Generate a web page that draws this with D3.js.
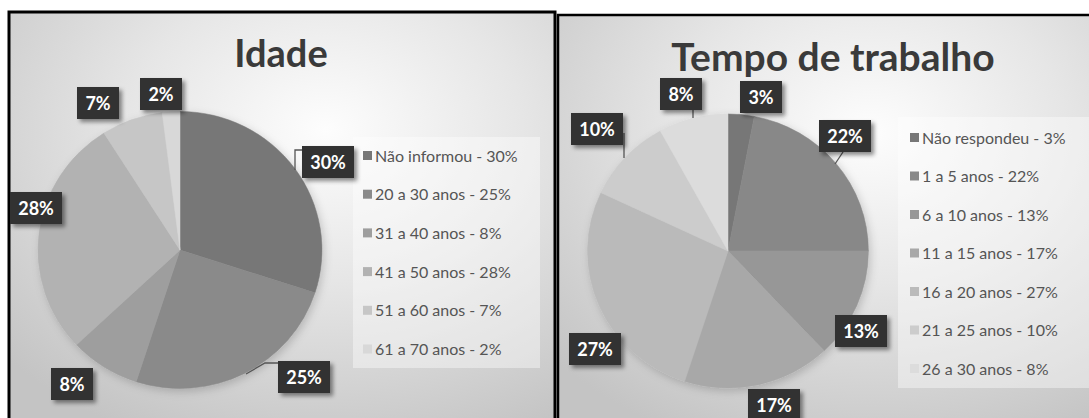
<!DOCTYPE html>
<html>
<head>
<meta charset="utf-8">
<script src="https://cdn.jsdelivr.net/npm/d3@7"></script>
<style>
  body { margin: 0; background: #fff; }
  svg { display: block; }
  text { font-family: Lato, "Open Sans", sans-serif; }
</style>
</head>
<body>
<div id="chart-area"></div>
<script>
// Data
var idadeCategories = ["Não informou", "20 a 30 anos", "31 a 40 anos", "41 a 50 anos", "51 a 60 anos", "61 a 70 anos"];
var idadeValues = [30, 25, 8, 28, 7, 2];
var tempoCategories = ["Não respondeu", "1 a 5 anos", "6 a 10 anos", "11 a 15 anos", "16 a 20 anos", "21 a 25 anos", "26 a 30 anos"];
var tempoValues = [3, 22, 13, 17, 27, 10, 8];

var width = 1089, height = 418;

var svg = d3.select("#chart-area")
    .append("svg")
        .attr("width", width)
        .attr("height", height);

var defs = svg.append("defs");

// panel background
var grad = defs.append("radialGradient")
    .attr("id", "bg")
    .attr("cx", "58%").attr("cy", "28%").attr("r", "80%");
grad.append("stop").attr("offset", "0%").attr("stop-color", "#fdfdfd");
grad.append("stop").attr("offset", "45%").attr("stop-color", "#e6e6e6");
grad.append("stop").attr("offset", "100%").attr("stop-color", "#c4c4c4");

// label shadow
defs.append("filter")
    .attr("id", "shadow")
    .attr("x", "-30%").attr("y", "-30%").attr("width", "170%").attr("height", "170%")
  .append("feDropShadow")
    .attr("dx", 3).attr("dy", 3)
    .attr("stdDeviation", 2)
    .attr("flood-color", "#000")
    .attr("flood-opacity", 0.45);

defs.append("filter")
    .attr("id", "pieShadow")
    .attr("x", "-20%").attr("y", "-20%").attr("width", "140%").attr("height", "140%")
  .append("feDropShadow")
    .attr("dx", 2).attr("dy", 3)
    .attr("stdDeviation", 4)
    .attr("flood-color", "#000")
    .attr("flood-opacity", 0.18);

var pie = d3.pie().sort(null).value(function(d){ return d; });

function drawPanel(opt) {
    var panel = svg.append("g");

    panel.append("rect")
        .attr("x", opt.box[0])
        .attr("y", opt.box[1])
        .attr("width", opt.box[2])
        .attr("height", opt.box[3])
        .attr("fill", "url(#bg)")
        .attr("stroke", "#000")
        .attr("stroke-width", opt.border);

    // Title
    panel.append("text")
        .attr("x", opt.title.x)
        .attr("y", opt.title.y)
        .attr("text-anchor", "middle")
        .attr("font-size", opt.title.size + "px")
        .attr("font-weight", "bold")
        .attr("fill", "#3a3a3a")
        .text(opt.title.text);

    var color = d3.scaleOrdinal()
        .domain(opt.categories)
        .range(opt.colors);

    // Pie
    var arc = d3.arc().innerRadius(0).outerRadius(opt.r);
    var g = panel.append("g")
        .attr("transform", "translate(" + opt.cx + "," + opt.cy + ") scale(1.025,1)");

    g.append("g")
        .attr("filter", "url(#pieShadow)")
        .selectAll("path")
        .data(pie(opt.values))
        .enter()
        .append("path")
            .attr("d", arc)
            .attr("fill", function(d, i){ return color(opt.categories[i]); })
            .attr("stroke", function(d, i){ return color(opt.categories[i]); })
            .attr("stroke-width", 0.5);

    // Legend
    var legend = panel.append("g");
    legend.append("rect")
        .attr("x", opt.legend.x)
        .attr("y", opt.legend.y)
        .attr("width", opt.legend.w)
        .attr("height", opt.legend.h)
        .attr("fill", "#ffffff")
        .attr("fill-opacity", 0.4);

    opt.categories.forEach(function(cat, i){
        var row = legend.append("g")
            .attr("transform", "translate(" + opt.legend.markerX + "," + (opt.legend.firstY + i * opt.legend.step) + ")");
        row.append("rect")
            .attr("x", 0)
            .attr("y", -5)
            .attr("width", 9)
            .attr("height", 9)
            .attr("fill", color(cat));
        row.append("text")
            .attr("x", 12)
            .attr("y", 5.5)
            .attr("font-size", opt.legend.size + "px")
            .attr("fill", "#555")
            .text(cat + " - " + opt.values[i] + "%");
    });

    // Leader lines
    var line = d3.line();
    opt.leaders.forEach(function(pts){
        panel.append("path")
            .attr("d", line(pts.map(function(p){ return [opt.cx + p[0], opt.cy + p[1]]; })))
            .attr("fill", "none")
            .attr("stroke", "#555")
            .attr("stroke-width", 1.3);
    });

    // Data labels
    opt.values.forEach(function(v, i){
        var pos = opt.labelPos[i];
        var lbl = panel.append("g")
            .attr("transform", "translate(" + (opt.cx + pos[0]) + "," + (opt.cy + pos[1]) + ")");
        var txt = String(v) + "%";
        var w = txt.length > 2 ? 52 : 42;
        lbl.append("rect")
            .attr("x", -w / 2)
            .attr("y", -16)
            .attr("width", w)
            .attr("height", 32)
            .attr("fill", "#323232")
            .attr("filter", "url(#shadow)");
        lbl.append("text")
            .attr("x", 0)
            .attr("y", 6.5)
            .attr("text-anchor", "middle")
            .attr("font-size", "18px")
            .attr("font-weight", "bold")
            .attr("fill", "#fff")
            .text(txt);
    });
}

drawPanel({
    box: [9, 12, 546, 420],
    border: 3,
    title: { text: "Idade", x: 281, y: 67, size: 38 },
    cx: 180, cy: 250, r: 138.5,
    categories: idadeCategories,
    values: idadeValues,
    colors: ["#777777", "#8a8a8a", "#9e9e9e", "#b2b2b2", "#c6c6c6", "#d8d8d8"],
    legend: { x: 353, y: 137, w: 187, h: 231, markerX: 363, firstY: 156, step: 38.7, size: 16 },
    labelPos: [[148, -88], [124, 127], [-108, 134], [-144, -42], [-82, -147], [-19, -156]],
    leaders: [
        [[115, -80], [115, -100], [126, -100]],
        [[66, 124], [85, 113], [98, 113]]
    ]
});

drawPanel({
    box: [558, 15, 540, 420],
    border: 2.5,
    title: { text: "Tempo de trabalho", x: 833, y: 71, size: 39 },
    cx: 728, cy: 251, r: 137,
    categories: tempoCategories,
    values: tempoValues,
    colors: ["#777777", "#888888", "#979797", "#a8a8a8", "#bababa", "#cccccc", "#dcdcdc"],
    legend: { x: 898, y: 117, w: 200, h: 271, markerX: 910, firstY: 138, step: 38.5, size: 16 },
    labelPos: [[33, -154], [117, -115], [133, 80], [46, 154], [-133, 98], [-131, -122], [-47, -157]],
    leaders: [
        [[107, -87], [115, -99]],
        [[-104, -118], [-104, -93]],
        [[-35, -141], [-35, -133]]
    ]
});
</script>
</body>
</html>
